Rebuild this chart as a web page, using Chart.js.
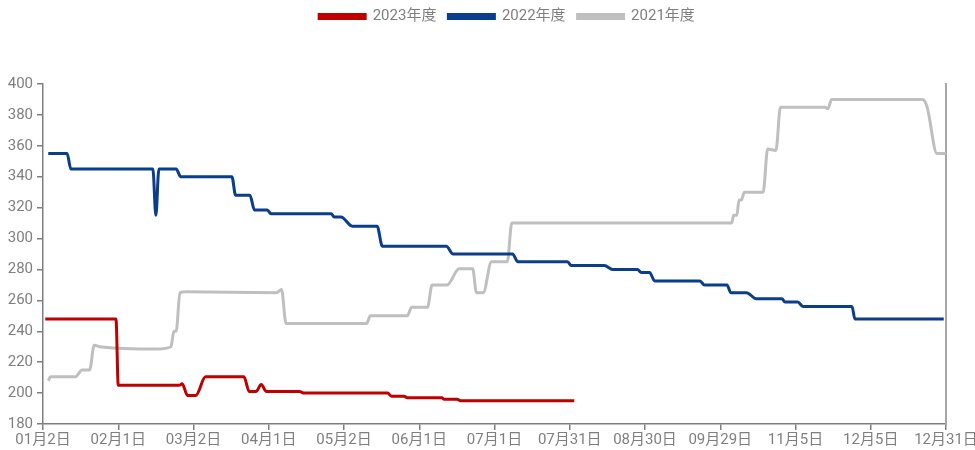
<!DOCTYPE html>
<html>
<head>
<meta charset="utf-8">
<script src="https://cdn.jsdelivr.net/npm/chart.js@4"></script>
<style>
  html, body { margin: 0; padding: 0; background: #fff; }
  #wrap { width: 975px; height: 450px; }
</style>
</head>
<body>
<div id="wrap"><canvas id="price-chart"></canvas></div>
<script>
// x is measured in tick intervals (0 = 01月2日, 12 = 12月31日)
const tickLabels = ["01月2日", "02月1日", "03月2日", "04月1日", "05月2日", "06月1日",
  "07月1日", "07月31日", "08月30日", "09月29日", "11月5日", "12月5日", "12月31日"];

const seriesNames = ["2023年度", "2022年度", "2021年度"];

const x2023 = [0.03, 0.97, 1.0, 1.81, 1.85, 1.92, 2.03, 2.16, 2.67, 2.74, 2.83, 2.9, 2.97,
  3.41, 3.47, 4.58, 4.63, 4.8, 4.84, 5.3, 5.33, 5.5, 5.56, 7.06];
const y2023 = [248, 248, 205, 205, 206, 198.5, 198.5, 210.5, 210.5, 201, 201, 205.5, 201,
  201, 200, 200, 198, 198, 197, 197, 196, 196, 195, 195];

const x2022 = [0.07, 0.32, 0.37, 1.46, 1.5, 1.54, 1.77, 1.83, 2.51, 2.56, 2.75, 2.81, 2.98,
  3.03, 3.83, 3.87, 3.96, 4.11, 4.44, 4.51, 5.36, 5.45, 6.24, 6.31, 6.97, 7.02, 7.46,
  7.57, 7.9, 7.95, 8.06, 8.13, 8.73, 8.79, 9.09, 9.14, 9.35, 9.48, 9.82, 9.86, 10.03,
  10.1, 10.75, 10.79, 11.97];
const y2022 = [355, 355, 345, 345, 315, 345, 345, 340, 340, 328, 328, 318.5, 318.5,
  316, 316, 314, 314, 308, 308, 295, 295, 290, 290, 285, 285, 282.5, 282.5,
  280, 280, 278, 278, 272.5, 272.5, 270, 270, 265, 265, 261, 261, 259, 259,
  256, 256, 248, 248];

const x2021 = [0.07, 0.1, 0.43, 0.52, 0.62, 0.68, 0.75, 1.52, 1.7, 1.74, 1.77, 1.82, 1.9,
  3.1, 3.17, 3.23, 4.3, 4.35, 4.84, 4.9, 5.11, 5.17, 5.37, 5.53, 5.71, 5.76, 5.85,
  5.96, 6.17, 6.23, 9.15, 9.18, 9.22, 9.25, 9.28, 9.32, 9.57, 9.63, 9.74, 9.8, 10.39, 10.43,
  10.48, 11.69, 11.75, 11.88, 12];
const y2021 = [208, 210.5, 210.5, 215, 215, 231, 230, 228.5, 230, 240, 240, 265, 265.5,
  265, 267, 245, 245, 250, 250, 255.5, 255.5, 270, 270, 280.5, 280.5, 265, 265,
  285, 285, 310, 310, 315, 315, 325, 325, 330, 330, 358, 357, 385, 385, 384,
  390, 390, 385, 355, 355];

const colors = ["#C00000", "#0A3D8A", "#BFBFBF"];

const toPoints = (xs, ys) => xs.map((x, i) => ({ x: x, y: ys[i] }));

const axisColor = "#7F7F7F";
const tickFont = { family: "Roboto, 'Noto Sans CJK SC', sans-serif", size: 15 };

// push the plot area down below the legend and nudge the legend into place
const legendSpacer = {
  id: "legendSpacer",
  beforeInit(chart) {
    const origFit = chart.legend.fit;
    chart.legend.fit = function fit() {
      origFit.bind(chart.legend)();
      this.height += 47;
    };
  },
  afterLayout(chart) {
    chart.legend.left += 34;
    chart.legend.right += 34;
    chart.legend.top -= 3;
    chart.legend.bottom -= 3;
  },
};

new Chart(document.getElementById("price-chart"), {
  type: "line",
  data: {
    datasets: [
      { label: seriesNames[0], data: toPoints(x2023, y2023) },
      { label: seriesNames[1], data: toPoints(x2022, y2022) },
      { label: seriesNames[2], data: toPoints(x2021, y2021) },
    ].map((ds, i) => ({
      ...ds,
      borderColor: colors[i],
      backgroundColor: colors[i],
      borderWidth: 3,
      pointRadius: 0,
      cubicInterpolationMode: "monotone",
      order: i,
    })),
  },
  options: {
    responsive: true,
    maintainAspectRatio: false,
    animation: false,
    layout: { padding: { left: 0, right: 29, top: 0, bottom: 0 } },
    plugins: {
      legend: {
        position: "top",
        labels: {
          boxWidth: 46,
          boxHeight: 4,
          padding: 12,
          color: axisColor,
          font: tickFont,
        },
      },
      tooltip: { enabled: false },
    },
    scales: {
      x: {
        type: "linear",
        min: 0,
        max: 12,
        afterFit: (scale) => {
          scale.paddingLeft = 0;
          scale.paddingRight = 0;
        },
        ticks: {
          stepSize: 1,
          autoSkip: false,
          maxRotation: 0,
          color: axisColor,
          font: tickFont,
          padding: 1,
          callback: (value) => tickLabels[value],
        },
        grid: { drawOnChartArea: false, tickLength: 6, color: axisColor, lineWidth: 1.5 },
        border: { color: axisColor, width: 1.5 },
      },
      y: {
        min: 180,
        max: 400,
        afterFit: (scale) => {
          scale.width = 43;
        },
        ticks: {
          stepSize: 20,
          color: axisColor,
          font: tickFont,
          padding: 4,
        },
        grid: { drawOnChartArea: false, tickLength: 6, color: axisColor, lineWidth: 1.5 },
        border: { color: axisColor, width: 1.5 },
      },
      y2: {
        position: "right",
        min: 180,
        max: 400,
        afterFit: (scale) => {
          scale.width = 0;
        },
        ticks: { display: false },
        grid: { drawOnChartArea: false, drawTicks: false },
        border: { color: "#A6A6A6", width: 2 },
      },
    },
  },
  plugins: [legendSpacer],
});
</script>
</body>
</html>
